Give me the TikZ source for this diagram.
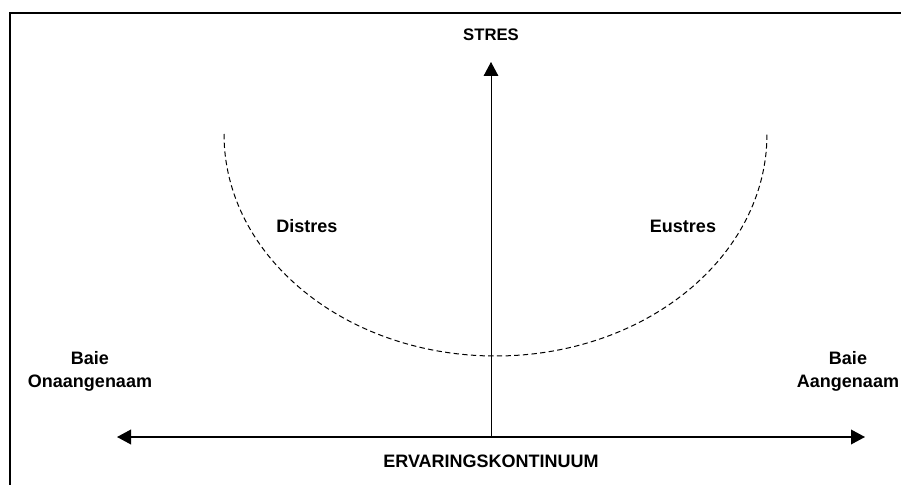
\documentclass[tikz,border=0pt]{standalone}
\usepackage{fontspec}
\setmainfont{Liberation Sans}
\usetikzlibrary{arrows.meta}
\begin{document}
\begin{tikzpicture}[x=0.75pt,y=-0.75pt,
  lbl/.style={font=\fontsize{13.5}{17.25}\selectfont\bfseries, inner sep=0pt, align=center},
  axis/.style={line width=1.1pt, -{Triangle[length=10.5pt,width=11pt]}},
  frame/.style={line width=1.5pt},
  curve/.style={line width=0.75pt, dash pattern=on 4pt off 2.5pt}]
\useasboundingbox (0,0) rectangle (901,485);
% frame (open to the right and bottom)
\draw[frame] (10,485) -- (10,13) -- (901,13);
% axes
\coordinate (O) at (491,437);
\coordinate (Top) at (491,62);
\coordinate (L) at (117,437);
\coordinate (R) at (865,437);
\draw[axis, line width=0.7pt] (O) -- (Top);
\draw[axis] (O) -- (L);
\draw[axis] (O) -- (R);
% dashed curve
\coordinate (CL) at (224,134);
\draw[curve] (CL) arc[start angle=180, end angle=0, x radius=271.5, y radius=222];
% labels
\node[lbl, font=\fontsize{12.5}{15}\selectfont\bfseries] (stres) at (491,35) {STRES};
\node[lbl] (distres) at (307,226) {Distres};
\node[lbl] (eustres) at (683,226) {Eustres};
\node[lbl, anchor=base] (bl) at (90,387) {Baie\\Onaangenaam};
\node[lbl, anchor=base] (br) at (848,387) {Baie\\Aangenaam};
\node[lbl] (erv) at (491,461.5) {ERVARINGSKONTINUUM};
\end{tikzpicture}
\end{document}
